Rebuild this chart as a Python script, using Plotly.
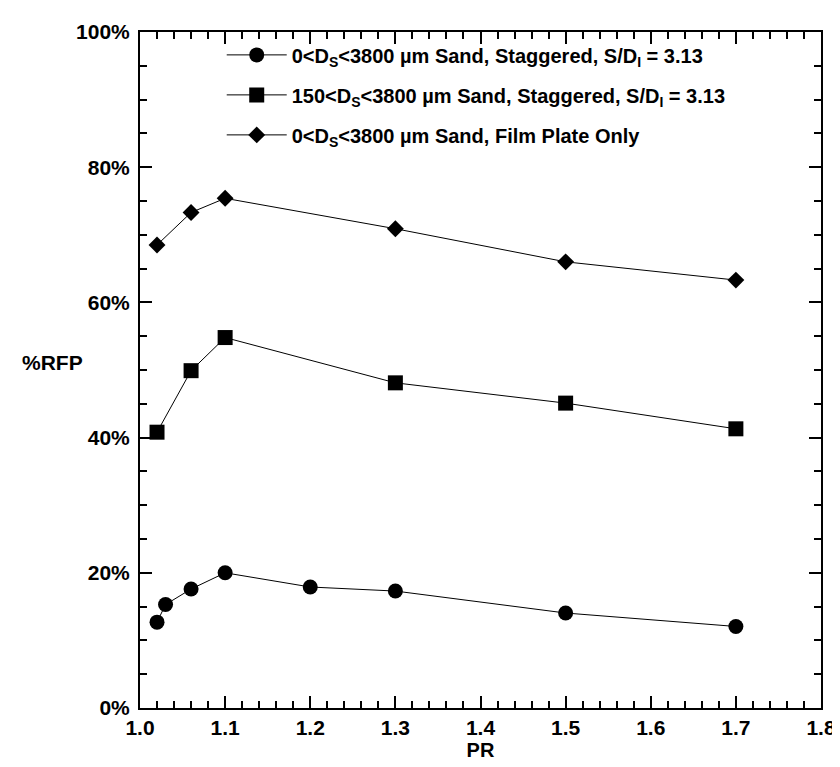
import plotly.graph_objects as go

# Data
pr_circle = [1.02, 1.03, 1.06, 1.1, 1.2, 1.3, 1.5, 1.7]
rfp_circle = [12.7, 15.3, 17.6, 20.0, 17.9, 17.3, 14.05, 12.06]

pr_square = [1.02, 1.06, 1.1, 1.3, 1.5, 1.7]
rfp_square = [40.8, 49.9, 54.8, 48.1, 45.1, 41.3]

pr_diamond = [1.02, 1.06, 1.1, 1.3, 1.5, 1.7]
rfp_diamond = [68.5, 73.3, 75.4, 70.9, 66.0, 63.3]

names = [
    "0<D<sub>S</sub><3800 µm Sand, Staggered, S/D<sub>I</sub> = 3.13",
    "150<D<sub>S</sub><3800 µm Sand, Staggered, S/D<sub>I</sub> = 3.13",
    "0<D<sub>S</sub><3800 µm Sand, Film Plate Only",
]

x_ticks = [1.0, 1.1, 1.2, 1.3, 1.4, 1.5, 1.6, 1.7, 1.8]
y_ticks = [0, 20, 40, 60, 80, 100]

FONT = "Liberation Sans, Arial, sans-serif"

fig = go.Figure()
fig.add_trace(go.Scatter(x=pr_circle, y=rfp_circle, mode="lines+markers", name=names[0],
                         legendgroup="a",
                         line=dict(color="black", width=1),
                         marker=dict(symbol="circle", size=15, color="black")))
fig.add_trace(go.Scatter(x=pr_square, y=rfp_square, mode="lines+markers", name=names[1],
                         legendgroup="b",
                         line=dict(color="black", width=1),
                         marker=dict(symbol="square", size=15, color="black")))
fig.add_trace(go.Scatter(x=pr_diamond, y=rfp_diamond, mode="lines+markers", name=names[2],
                         legendgroup="c",
                         line=dict(color="black", width=1),
                         marker=dict(symbol="diamond", size=13, color="black")))

axis_common = dict(
    showgrid=False, zeroline=False, showline=True, linecolor="black", linewidth=2,
    mirror="ticks", ticks="inside", tickcolor="black", tickwidth=1.5, ticklen=12,
    tickfont=dict(family=FONT, size=21, color="black"),
)

fig.update_xaxes(range=[1.0, 1.8], tickvals=x_ticks, ticktext=[f"<b>{v:.1f}</b>" for v in x_ticks],
                 minor=dict(dtick=0.02, ticks="inside", ticklen=7, tickcolor="black", tickwidth=1.5),
                 title=dict(text="<b>PR</b>", font=dict(family=FONT, size=20, color="black"), standoff=2),
                 **axis_common)
fig.update_yaxes(range=[0, 100], tickvals=y_ticks, ticktext=[f"<b>{v}%</b>" for v in y_ticks],
                 minor=dict(dtick=5, ticks="inside", ticklen=7, tickcolor="black", tickwidth=1.5),
                 ticklabelstandoff=4,
                 **axis_common)

fig.add_annotation(text="<b>%RFP</b>", xref="paper", yref="paper", x=-0.129, y=0.511,
                   xanchor="center", yanchor="middle", showarrow=False,
                   font=dict(family=FONT, size=21, color="black"))

fig.update_layout(
    width=840, height=767,
    margin=dict(l=132, r=20, t=15, b=67),
    plot_bgcolor="white", paper_bgcolor="white",
    font=dict(family=FONT, color="black"),
    legend=dict(x=0.12, y=0.995, xanchor="left", yanchor="top",
                bgcolor="rgba(0,0,0,0)", borderwidth=0,
                font=dict(family=FONT, size=20, color="black"),
                itemwidth=60, traceorder="grouped", tracegroupgap=11),
    showlegend=True,
)
for tr in fig.data:
    tr.name = f"<b>{tr.name}</b>"

fig.write_html("out.html")
